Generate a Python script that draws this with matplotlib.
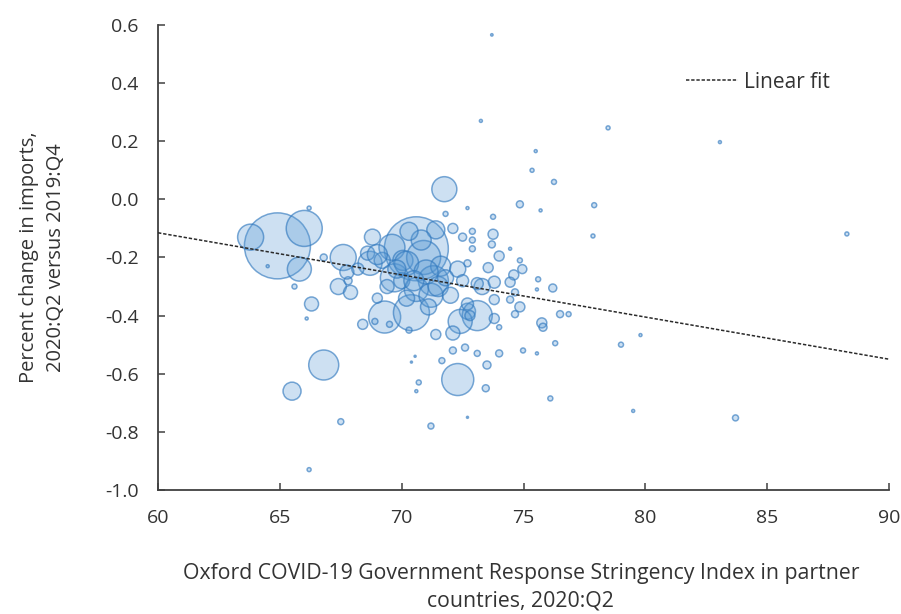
import numpy as np
import matplotlib
matplotlib.use("Agg")
import matplotlib.pyplot as plt

plt.rcParams["font.family"] = ["Open Sans", "DejaVu Sans"]
plt.rcParams["axes.unicode_minus"] = False

# stringency index (x), percent change in imports (y), bubble radius (relative weight)
stringency = [
    64.9, 63.8, 66.0, 65.8, 66.2, 64.5, 65.6, 66.8, 66.3, 66.1,
    66.8, 65.5, 67.5, 66.2, 67.6, 67.4, 67.9, 67.8, 67.75, 68.4,
    68.7, 68.6, 68.8, 69.3, 70.4, 70.6, 69.6, 69.7, 69.2, 70.05,
    70.9, 71.3, 70.6, 70.2, 71.4, 71.75, 71.8, 71.6, 71.2, 72.1,
    72.3, 72.7, 73.1, 72.3, 72.4, 72.1, 71.4, 73.3, 73.45, 72.6,
    72.1, 73.1, 71.65, 71.2, 70.7, 70.6, 70.3, 72.7, 70.4, 69.5,
    72.5, 72.9, 72.9, 72.9, 72.7, 73.75, 73.75, 73.7, 74.45, 74.0,
    73.55, 74.85, 74.95, 74.6, 72.7, 73.1, 73.8, 74.45, 75.6, 76.2,
    75.55, 74.65, 73.8, 74.45, 74.85, 74.65, 73.8, 74.0, 75.75, 75.8,
    76.5, 76.85, 76.3, 75.55, 74.98, 74.0, 73.5, 76.1, 79.0, 79.8,
    73.7, 73.25, 75.5, 75.35, 76.25, 74.85, 75.7, 77.9, 77.85, 78.47,
    83.06, 88.27, 79.5, 83.7, 68.9, 70.55,
    69.0, 70.2, 71.0, 71.5, 70.8, 70.0, 69.4, 71.8, 72.0, 68.2,
    69.0, 70.3, 71.1, 72.5, 72.7, 72.8, 69.8, 70.5,
]
pct_change = [
    -0.16, -0.13, -0.10, -0.24, -0.03, -0.23, -0.30, -0.20, -0.36, -0.41,
    -0.57, -0.66, -0.765, -0.93, -0.20, -0.30, -0.32, -0.28, -0.25, -0.43,
    -0.22, -0.185, -0.13, -0.405, -0.39, -0.17, -0.165, -0.27, -0.21, -0.21,
    -0.20, -0.28, -0.31, -0.34, -0.105, 0.035, -0.05, -0.23, -0.33, -0.10,
    -0.24, -0.385, -0.40, -0.62, -0.42, -0.46, -0.465, -0.30, -0.65, -0.51,
    -0.52, -0.53, -0.555, -0.78, -0.63, -0.66, -0.45, -0.75, -0.56, -0.43,
    -0.13, -0.17, -0.11, -0.14, -0.03, -0.06, -0.12, -0.155, -0.17, -0.195,
    -0.235, -0.21, -0.24, -0.26, -0.22, -0.29, -0.285, -0.285, -0.275, -0.305,
    -0.31, -0.32, -0.345, -0.345, -0.37, -0.395, -0.41, -0.44, -0.425, -0.44,
    -0.395, -0.395, -0.495, -0.53, -0.52, -0.53, -0.57, -0.685, -0.50, -0.467,
    0.566, 0.27, 0.166, 0.10, 0.06, -0.017, -0.038, -0.02, -0.126, 0.246,
    0.197, -0.119, -0.728, -0.752, -0.42, -0.54,
    -0.19, -0.22, -0.25, -0.30, -0.14, -0.28, -0.30, -0.27, -0.33, -0.24,
    -0.34, -0.11, -0.37, -0.28, -0.36, -0.40, -0.24, -0.28,
]
bubble_r = [
    33, 13, 18, 12, 2, 1.5, 2.5, 3.5, 7, 1.5,
    15, 9, 3, 2, 13, 8, 7, 4, 7, 5,
    12, 7, 8, 16, 18, 32, 13, 14, 8, 10,
    17, 15, 12, 8, 9, 12.5, 2.5, 10, 12, 5,
    8, 8, 15, 16, 12, 7, 5, 8, 3.5, 3.5,
    3.5, 3, 3, 3, 2.5, 1.5, 3, 1, 1, 3,
    4, 3, 3, 3, 1.5, 2.5, 5, 3.5, 1.5, 5,
    5, 2.5, 4.5, 5, 3.5, 6, 6, 5, 2.5, 4,
    1.5, 3.5, 5, 3.5, 5, 3.5, 5, 2.5, 5, 4,
    3.5, 2.5, 2.5, 1.5, 2.5, 3.5, 4, 2.5, 2.5, 1.5,
    1.2, 1.5, 1.5, 2, 2.5, 3.5, 1.5, 2.5, 2, 2,
    1.5, 2, 1.5, 3, 3, 1,
    10, 12, 12, 10, 10, 8, 7, 8, 8, 6,
    5, 9, 8, 6, 6, 5, 9, 10,
]
y_tick_labels = ["-1.0", "-0.8", "-0.6", "-0.4", "-0.2", "0.0", "0.2", "0.4", "0.6"]

# linear fit (endpoints)
fit_x = [60, 90]
fit_y = [-0.115, -0.55]

x = np.array(stringency)
y = np.array(pct_change)
r = np.array(bubble_r)
sizes = (2 * r * 0.72) ** 2

fig = plt.figure(figsize=(9.01, 6.14), dpi=100)
ax = fig.add_axes([0.1754, 0.2020, 0.8113, 0.7573])

ax.scatter(
    x, y, s=sizes,
    facecolor=(0.357, 0.608, 0.835, 0.30),
    edgecolor=(0.20, 0.48, 0.75, 0.65),
    linewidth=1.1,
    zorder=2,
)

ax.plot(
    fit_x, fit_y,
    color="#2a2a2a",
    linestyle=(0, (2.2, 1.2)),
    linewidth=1.1,
    label="Linear fit",
    zorder=3,
)

ax.set_xlim(60, 90)
ax.set_ylim(-1.0, 0.6)
ax.set_xticks(np.arange(60, 91, 5))
ax.set_yticks(np.linspace(-1.0, 0.6, 9))
ax.set_yticklabels(y_tick_labels)

for side in ["top", "right"]:
    ax.spines[side].set_visible(False)
for side in ["left", "bottom"]:
    ax.spines[side].set_color("#404040")
    ax.spines[side].set_linewidth(1.3)

ax.tick_params(
    direction="in", length=5, width=1.1, color="#404040",
    labelsize=14, labelcolor="#333333", pad=14,
)

leg = ax.legend(
    loc="center left",
    bbox_to_anchor=(0.722, 0.877),
    frameon=False,
    fontsize=15,
    handlelength=2.5,
    handletextpad=0.3,
    borderpad=0,
    borderaxespad=0,
)
for t in leg.get_texts():
    t.set_color("#333333")

fig.text(
    0.047, 0.581,
    "Percent change in imports,\n2020:Q2 versus 2019:Q4",
    rotation=90, ha="center", va="center",
    fontsize=14.5, color="#333333", linespacing=1.45,
)
fig.text(
    0.578, 0.044,
    "Oxford COVID-19 Government Response Stringency Index in partner\ncountries, 2020:Q2",
    ha="center", va="center",
    fontsize=15.3, color="#333333", linespacing=1.4,
)

fig.savefig("out.png", dpi=100)
plt.close(fig)
